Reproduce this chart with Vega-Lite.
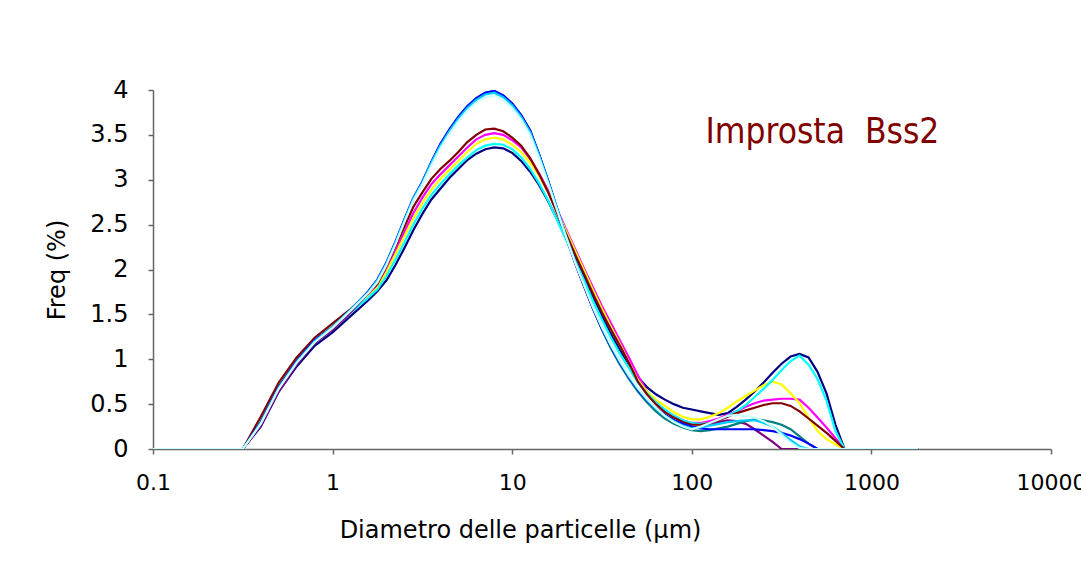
{
  "$schema": "https://vega.github.io/schema/vega-lite/v6.json",
  "width": 898,
  "height": 359,
  "autosize": {"type": "none"},
  "padding": {"left": 153, "top": 90, "right": 30, "bottom": 131},
  "background": "white",
  "config": {"view": {"stroke": null}, "font": "DejaVu Sans"},
  "layer": [
    {
      "data": {"values": [
        {"d": 0.1, "S1": 0, "S2": 0, "S3": 0, "S4": 0, "S5": 0, "S6": 0, "S7": 0, "S8": 0, "S9": 0, "S10": 0},
        {"d": 0.3162, "S1": 0, "S2": 0, "S3": 0, "S4": 0, "S5": 0, "S6": 0, "S7": 0, "S8": 0, "S9": 0, "S10": 0},
        {"d": 0.3981, "S1": 0.25, "S2": 0.31, "S3": 0.32, "S4": 0.30, "S5": 0.26, "S6": 0.36, "S7": 0.30, "S8": 0.30, "S9": 0.29, "S10": 0.28},
        {"d": 0.5012, "S1": 0.64, "S2": 0.70, "S3": 0.71, "S4": 0.69, "S5": 0.64, "S6": 0.74, "S7": 0.68, "S8": 0.69, "S9": 0.68, "S10": 0.67},
        {"d": 0.631, "S1": 0.92, "S2": 0.98, "S3": 0.99, "S4": 0.97, "S5": 0.94, "S6": 1.02, "S7": 0.97, "S8": 0.98, "S9": 0.97, "S10": 0.96},
        {"d": 0.7943, "S1": 1.15, "S2": 1.20, "S3": 1.21, "S4": 1.19, "S5": 1.18, "S6": 1.24, "S7": 1.20, "S8": 1.21, "S9": 1.20, "S10": 1.19},
        {"d": 1, "S1": 1.30, "S2": 1.36, "S3": 1.37, "S4": 1.35, "S5": 1.33, "S6": 1.40, "S7": 1.36, "S8": 1.36, "S9": 1.36, "S10": 1.35},
        {"d": 1.259, "S1": 1.48, "S2": 1.53, "S3": 1.53, "S4": 1.52, "S5": 1.52, "S6": 1.56, "S7": 1.54, "S8": 1.55, "S9": 1.55, "S10": 1.54},
        {"d": 1.585, "S1": 1.66, "S2": 1.72, "S3": 1.70, "S4": 1.69, "S5": 1.74, "S6": 1.74, "S7": 1.75, "S8": 1.76, "S9": 1.75, "S10": 1.74},
        {"d": 1.778, "S1": 1.76, "S2": 1.82, "S3": 1.80, "S4": 1.78, "S5": 1.87, "S6": 1.84, "S7": 1.88, "S8": 1.89, "S9": 1.88, "S10": 1.86},
        {"d": 1.995, "S1": 1.88, "S2": 2.00, "S3": 1.97, "S4": 1.93, "S5": 2.06, "S6": 2.04, "S7": 2.07, "S8": 2.08, "S9": 2.07, "S10": 2.05},
        {"d": 2.239, "S1": 2.05, "S2": 2.21, "S3": 2.17, "S4": 2.11, "S5": 2.29, "S6": 2.26, "S7": 2.30, "S8": 2.31, "S9": 2.30, "S10": 2.28},
        {"d": 2.512, "S1": 2.24, "S2": 2.42, "S3": 2.37, "S4": 2.30, "S5": 2.54, "S6": 2.48, "S7": 2.55, "S8": 2.56, "S9": 2.55, "S10": 2.53},
        {"d": 2.818, "S1": 2.44, "S2": 2.63, "S3": 2.57, "S4": 2.50, "S5": 2.78, "S6": 2.70, "S7": 2.79, "S8": 2.80, "S9": 2.79, "S10": 2.77},
        {"d": 3.162, "S1": 2.62, "S2": 2.80, "S3": 2.74, "S4": 2.68, "S5": 2.96, "S6": 2.86, "S7": 2.97, "S8": 2.98, "S9": 2.97, "S10": 2.95},
        {"d": 3.548, "S1": 2.78, "S2": 2.95, "S3": 2.89, "S4": 2.83, "S5": 3.19, "S6": 3.01, "S7": 3.19, "S8": 3.20, "S9": 3.19, "S10": 3.16},
        {"d": 3.981, "S1": 2.90, "S2": 3.06, "S3": 3.01, "S4": 2.95, "S5": 3.39, "S6": 3.12, "S7": 3.39, "S8": 3.40, "S9": 3.38, "S10": 3.35},
        {"d": 4.467, "S1": 3.02, "S2": 3.16, "S3": 3.11, "S4": 3.06, "S5": 3.55, "S6": 3.21, "S7": 3.56, "S8": 3.56, "S9": 3.54, "S10": 3.51},
        {"d": 5.012, "S1": 3.12, "S2": 3.26, "S3": 3.21, "S4": 3.16, "S5": 3.69, "S6": 3.31, "S7": 3.70, "S8": 3.70, "S9": 3.68, "S10": 3.65},
        {"d": 5.623, "S1": 3.22, "S2": 3.36, "S3": 3.31, "S4": 3.25, "S5": 3.81, "S6": 3.42, "S7": 3.82, "S8": 3.82, "S9": 3.80, "S10": 3.77},
        {"d": 6.31, "S1": 3.29, "S2": 3.45, "S3": 3.40, "S4": 3.33, "S5": 3.90, "S6": 3.50, "S7": 3.91, "S8": 3.91, "S9": 3.89, "S10": 3.86},
        {"d": 7.079, "S1": 3.34, "S2": 3.50, "S3": 3.45, "S4": 3.38, "S5": 3.96, "S6": 3.56, "S7": 3.97, "S8": 3.97, "S9": 3.95, "S10": 3.92},
        {"d": 7.943, "S1": 3.36, "S2": 3.52, "S3": 3.47, "S4": 3.40, "S5": 3.98, "S6": 3.57, "S7": 3.99, "S8": 3.99, "S9": 3.97, "S10": 3.94},
        {"d": 8.913, "S1": 3.35, "S2": 3.50, "S3": 3.45, "S4": 3.39, "S5": 3.93, "S6": 3.54, "S7": 3.94, "S8": 3.94, "S9": 3.92, "S10": 3.89},
        {"d": 10, "S1": 3.30, "S2": 3.44, "S3": 3.39, "S4": 3.34, "S5": 3.84, "S6": 3.47, "S7": 3.85, "S8": 3.85, "S9": 3.83, "S10": 3.80},
        {"d": 11.22, "S1": 3.21, "S2": 3.36, "S3": 3.31, "S4": 3.25, "S5": 3.71, "S6": 3.38, "S7": 3.72, "S8": 3.72, "S9": 3.70, "S10": 3.67},
        {"d": 12.59, "S1": 3.09, "S2": 3.23, "S3": 3.19, "S4": 3.12, "S5": 3.54, "S6": 3.24, "S7": 3.55, "S8": 3.55, "S9": 3.53, "S10": 3.50},
        {"d": 14.13, "S1": 2.94, "S2": 3.07, "S3": 3.04, "S4": 2.96, "S5": 3.27, "S6": 3.06, "S7": 3.28, "S8": 3.28, "S9": 3.27, "S10": 3.24},
        {"d": 15.85, "S1": 2.76, "S2": 2.88, "S3": 2.86, "S4": 2.77, "S5": 2.98, "S6": 2.86, "S7": 2.99, "S8": 2.99, "S9": 2.98, "S10": 2.96},
        {"d": 17.78, "S1": 2.56, "S2": 2.67, "S3": 2.65, "S4": 2.55, "S5": 2.67, "S6": 2.63, "S7": 2.68, "S8": 2.68, "S9": 2.68, "S10": 2.66},
        {"d": 19.95, "S1": 2.35, "S2": 2.45, "S3": 2.43, "S4": 2.33, "S5": 2.36, "S6": 2.40, "S7": 2.37, "S8": 2.37, "S9": 2.37, "S10": 2.36},
        {"d": 22.39, "S1": 2.13, "S2": 2.23, "S3": 2.21, "S4": 2.10, "S5": 2.07, "S6": 2.17, "S7": 2.08, "S8": 2.08, "S9": 2.09, "S10": 2.08},
        {"d": 25.12, "S1": 1.91, "S2": 2.01, "S3": 1.99, "S4": 1.88, "S5": 1.81, "S6": 1.95, "S7": 1.82, "S8": 1.82, "S9": 1.83, "S10": 1.83},
        {"d": 28.18, "S1": 1.69, "S2": 1.80, "S3": 1.77, "S4": 1.65, "S5": 1.56, "S6": 1.73, "S7": 1.57, "S8": 1.57, "S9": 1.58, "S10": 1.58},
        {"d": 31.62, "S1": 1.48, "S2": 1.59, "S3": 1.56, "S4": 1.44, "S5": 1.33, "S6": 1.52, "S7": 1.33, "S8": 1.34, "S9": 1.35, "S10": 1.36},
        {"d": 35.48, "S1": 1.28, "S2": 1.40, "S3": 1.36, "S4": 1.24, "S5": 1.13, "S6": 1.33, "S7": 1.12, "S8": 1.14, "S9": 1.15, "S10": 1.16},
        {"d": 39.81, "S1": 1.10, "S2": 1.21, "S3": 1.17, "S4": 1.06, "S5": 0.96, "S6": 1.15, "S7": 0.94, "S8": 0.96, "S9": 0.97, "S10": 0.98},
        {"d": 44.67, "S1": 0.94, "S2": 1.02, "S3": 0.96, "S4": 0.90, "S5": 0.81, "S6": 0.96, "S7": 0.78, "S8": 0.80, "S9": 0.81, "S10": 0.82},
        {"d": 50.12, "S1": 0.80, "S2": 0.82, "S3": 0.77, "S4": 0.74, "S5": 0.67, "S6": 0.75, "S7": 0.64, "S8": 0.66, "S9": 0.67, "S10": 0.68},
        {"d": 56.23, "S1": 0.69, "S2": 0.64, "S3": 0.64, "S4": 0.62, "S5": 0.55, "S6": 0.61, "S7": 0.52, "S8": 0.54, "S9": 0.55, "S10": 0.56},
        {"d": 63.1, "S1": 0.61, "S2": 0.52, "S3": 0.55, "S4": 0.52, "S5": 0.46, "S6": 0.50, "S7": 0.42, "S8": 0.45, "S9": 0.45, "S10": 0.46},
        {"d": 70.79, "S1": 0.55, "S2": 0.43, "S3": 0.48, "S4": 0.44, "S5": 0.38, "S6": 0.41, "S7": 0.34, "S8": 0.38, "S9": 0.37, "S10": 0.37},
        {"d": 79.43, "S1": 0.50, "S2": 0.37, "S3": 0.41, "S4": 0.37, "S5": 0.32, "S6": 0.35, "S7": 0.28, "S8": 0.32, "S9": 0.31, "S10": 0.30},
        {"d": 89.13, "S1": 0.46, "S2": 0.32, "S3": 0.36, "S4": 0.32, "S5": 0.27, "S6": 0.30, "S7": 0.24, "S8": 0.28, "S9": 0.26, "S10": 0.25},
        {"d": 100, "S1": 0.44, "S2": 0.29, "S3": 0.33, "S4": 0.29, "S5": 0.24, "S6": 0.27, "S7": 0.21, "S8": 0.25, "S9": 0.23, "S10": 0.22},
        {"d": 112.2, "S1": 0.42, "S2": 0.29, "S3": 0.33, "S4": 0.28, "S5": 0.25, "S6": 0.27, "S7": 0.20, "S8": 0.23, "S9": 0.24, "S10": 0.25},
        {"d": 125.9, "S1": 0.40, "S2": 0.31, "S3": 0.36, "S4": 0.29, "S5": 0.27, "S6": 0.29, "S7": 0.21, "S8": 0.22, "S9": 0.26, "S10": 0.29},
        {"d": 141.3, "S1": 0.38, "S2": 0.34, "S3": 0.40, "S4": 0.32, "S5": 0.30, "S6": 0.32, "S7": 0.23, "S8": 0.22, "S9": 0.28, "S10": 0.33},
        {"d": 158.5, "S1": 0.40, "S2": 0.38, "S3": 0.46, "S4": 0.37, "S5": 0.32, "S6": 0.36, "S7": 0.25, "S8": 0.22, "S9": 0.30, "S10": 0.37},
        {"d": 177.8, "S1": 0.47, "S2": 0.42, "S3": 0.53, "S4": 0.42, "S5": 0.31, "S6": 0.40, "S7": 0.28, "S8": 0.22, "S9": 0.31, "S10": 0.38},
        {"d": 199.5, "S1": 0.55, "S2": 0.47, "S3": 0.59, "S4": 0.49, "S5": 0.28, "S6": 0.43, "S7": 0.31, "S8": 0.22, "S9": 0.32, "S10": 0.37},
        {"d": 223.9, "S1": 0.64, "S2": 0.51, "S3": 0.65, "S4": 0.58, "S5": 0.22, "S6": 0.46, "S7": 0.33, "S8": 0.22, "S9": 0.32, "S10": 0.35},
        {"d": 251.2, "S1": 0.74, "S2": 0.54, "S3": 0.71, "S4": 0.67, "S5": 0.15, "S6": 0.49, "S7": 0.32, "S8": 0.21, "S9": 0.29, "S10": 0.31},
        {"d": 281.8, "S1": 0.85, "S2": 0.55, "S3": 0.75, "S4": 0.77, "S5": 0.08, "S6": 0.51, "S7": 0.30, "S8": 0.20, "S9": 0.25, "S10": 0.25},
        {"d": 316.2, "S1": 0.95, "S2": 0.56, "S3": 0.72, "S4": 0.88, "S5": 0, "S6": 0.51, "S7": 0.27, "S8": 0.18, "S9": 0.18, "S10": 0.16},
        {"d": 354.8, "S1": 1.03, "S2": 0.56, "S3": 0.62, "S4": 0.98, "S5": 0, "S6": 0.48, "S7": 0.22, "S8": 0.15, "S9": 0.10, "S10": 0.07},
        {"d": 398.1, "S1": 1.06, "S2": 0.55, "S3": 0.51, "S4": 1.04, "S5": 0, "S6": 0.42, "S7": 0.14, "S8": 0.11, "S9": 0.03, "S10": 0.01},
        {"d": 446.7, "S1": 1.02, "S2": 0.46, "S3": 0.35, "S4": 0.94, "S5": 0, "S6": 0.34, "S7": 0.06, "S8": 0.06, "S9": 0, "S10": 0},
        {"d": 501.2, "S1": 0.86, "S2": 0.35, "S3": 0.20, "S4": 0.78, "S5": 0, "S6": 0.26, "S7": 0, "S8": 0, "S9": 0, "S10": 0},
        {"d": 562.3, "S1": 0.62, "S2": 0.24, "S3": 0.11, "S4": 0.54, "S5": 0, "S6": 0.18, "S7": 0, "S8": 0, "S9": 0, "S10": 0},
        {"d": 631, "S1": 0.27, "S2": 0.12, "S3": 0.05, "S4": 0.20, "S5": 0, "S6": 0.09, "S7": 0, "S8": 0, "S9": 0, "S10": 0},
        {"d": 707.9, "S1": 0, "S2": 0, "S3": 0, "S4": 0, "S5": 0, "S6": 0, "S7": 0, "S8": 0, "S9": 0, "S10": 0},
        {"d": 1820, "S1": 0, "S2": 0, "S3": 0, "S4": 0, "S5": 0, "S6": 0, "S7": 0, "S8": 0, "S9": 0, "S10": 0}
      ]},
      "transform": [{"fold": ["S1", "S2", "S3", "S4", "S5", "S6", "S7", "S8", "S9", "S10"], "as": ["series", "freq"]}],
      "mark": {"type": "line", "strokeWidth": 2.2, "clip": true},
      "encoding": {
        "x": {
          "field": "d", "type": "quantitative", "title": "Diametro delle particelle (µm)",
          "scale": {"type": "log", "domain": [0.1, 10000]},
          "axis": {
            "values": [0.1, 1, 10, 100, 1000, 10000], "format": "~g", "grid": false,
            "titleFont": "DejaVu Sans", "titleFontSize": 24, "titleFontWeight": "normal", "titleColor": "#000000",
            "titleX": 367, "titleY": 88, "titleAlign": "center", "titleBaseline": "alphabetic",
            "labelFont": "DejaVu Sans", "labelFontSize": 22, "labelColor": "#000000",
            "labelBaseline": "alphabetic", "labelPadding": 35, "labelFlush": false,
            "tickSize": 5, "tickColor": "#666666", "domainColor": "#666666", "domainWidth": 1.5, "tickWidth": 1.5
          }
        },
        "y": {
          "field": "freq", "type": "quantitative", "title": "Freq (%)",
          "scale": {"domain": [0, 4]},
          "axis": {
            "values": [0, 0.5, 1, 1.5, 2, 2.5, 3, 3.5, 4], "format": "~g", "grid": false,
            "titleFont": "DejaVu Sans", "titleFontSize": 24, "titleFontWeight": "normal", "titleColor": "#000000",
            "titleX": -96, "titleY": 179.5, "titleAngle": -90, "titleAlign": "center", "titleBaseline": "middle",
            "labelFont": "DejaVu Sans", "labelFontSize": 24, "labelColor": "#000000",
            "labelPadding": 20, "labelFlush": false,
            "tickSize": 5, "tickColor": "#666666", "domainColor": "#666666", "domainWidth": 1.5, "tickWidth": 1.5
          }
        },
        "color": {
          "field": "series", "type": "nominal",
          "scale": {
            "domain": ["S1", "S2", "S3", "S4", "S5", "S6", "S7", "S8", "S9", "S10"],
            "range": ["#000080", "#FF00FF", "#FFFF00", "#00FFFF", "#800080", "#800000", "#008080", "#0000FF", "#00CCFF", "#CCFFFF"]
          },
          "legend": null
        }
      }
    },
    {
      "data": {"values": [{"d": 534, "freq": 3.41, "label": "Improsta\u00a0 Bss2"}]},
      "mark": {"type": "text", "font": "DejaVu Sans Condensed, Open Sans, sans-serif", "fontSize": 35, "color": "#800000", "align": "center", "baseline": "alphabetic"},
      "encoding": {
        "x": {"field": "d", "type": "quantitative", "title": "Diametro delle particelle (µm)"},
        "y": {"field": "freq", "type": "quantitative", "title": "Freq (%)"},
        "text": {"field": "label"}
      }
    }
  ]
}
